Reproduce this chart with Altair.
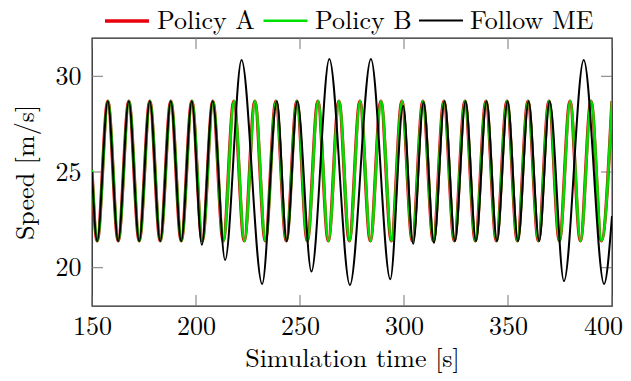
import altair as alt
import pandas as pd

# ---- data (extrema of each trace) ----
a_time = [150.0, 152.5, 157.6, 162.6, 167.7, 172.7, 177.8, 182.8, 187.9, 192.9,
          198.0, 203.0, 208.1, 213.1, 218.2, 223.2, 228.3, 233.3, 238.4, 243.4,
          248.5, 253.5, 258.6, 263.6, 268.7, 273.7, 278.8, 283.8, 288.9, 293.9,
          299.0, 304.0, 309.1, 314.1, 319.2, 324.2, 329.3, 334.3, 339.4, 344.4,
          349.5, 354.5, 359.6, 364.6, 369.7, 374.7, 379.8, 384.8, 389.9, 394.9,
          400.0]
a_speed = [25.0, 21.4, 28.7, 21.4, 28.7, 21.4, 28.7, 21.4, 28.7, 21.4,
           28.7, 21.4, 28.7, 21.4, 28.7, 21.4, 28.7, 21.4, 28.7, 21.4,
           28.7, 21.4, 28.7, 21.4, 28.7, 21.4, 28.7, 21.4, 28.7, 21.4,
           28.7, 21.4, 28.7, 21.4, 28.7, 21.4, 28.7, 21.4, 28.7, 21.4,
           28.7, 21.4, 28.7, 21.4, 28.7, 21.4, 28.7, 21.4, 28.7, 21.4,
           28.7]

b_time = [150.0, 152.6, 157.7, 162.7, 167.8, 172.8, 177.9, 182.9, 188.0, 193.0,
          198.1, 203.1, 208.2, 213.2, 218.3, 223.3, 228.4, 233.4, 238.5, 243.5,
          248.6, 253.6, 258.7, 263.7, 268.8, 273.8, 278.9, 283.9, 289.0, 294.0,
          299.1, 304.1, 309.2, 314.2, 319.3, 324.3, 329.4, 334.4, 339.5, 344.5,
          349.6, 354.6, 359.7, 364.7, 369.8, 374.8, 379.9, 384.9, 390.0, 395.0,
          400.0]
b_speed = [25.1, 21.4, 28.7, 21.4, 28.7, 21.4, 28.7, 21.4, 28.7, 21.4,
           28.7, 21.4, 28.7, 21.4, 28.7, 21.4, 28.7, 21.4, 28.7, 21.4,
           28.7, 21.4, 28.7, 21.4, 28.7, 21.4, 28.7, 21.4, 28.7, 21.4,
           28.7, 21.4, 28.7, 21.4, 28.7, 21.4, 28.7, 21.4, 28.7, 21.4,
           28.7, 21.4, 28.7, 21.4, 28.7, 21.4, 28.7, 21.4, 28.7, 21.4,
           28.7]

c_time = [150.0, 152.5, 157.6, 162.6, 167.7, 172.7, 177.8, 182.8, 187.9, 192.9,
          198.0, 202.8, 208.0, 214.0, 221.9, 231.8, 238.9, 243.6, 248.7, 255.5,
          264.1, 274.0, 284.1, 293.4, 299.6, 304.4, 309.4, 314.4, 319.5, 324.5,
          329.6, 334.6, 339.7, 344.7, 349.8, 354.8, 359.9, 365.0, 370.0, 376.9,
          386.4, 396.2, 400.0]
c_speed = [25.0, 21.4, 28.7, 21.4, 28.7, 21.4, 28.7, 21.4, 28.7, 21.4,
           28.7, 21.2, 28.7, 20.4, 30.85, 19.15, 28.7, 21.4, 28.7, 19.8,
           30.9, 19.1, 30.9, 19.4, 28.45, 21.25, 28.65, 21.3, 28.7, 21.4,
           28.7, 21.4, 28.7, 21.4, 28.7, 21.4, 28.7, 21.4, 28.7, 19.3,
           30.85, 19.15, 22.7]

series_names = ["Policy A", "Policy B", "Follow ME"]
series_colors = ["#e8000b", "#00e000", "#000000"]
series_widths = [3.4, 2.0, 1.1]

x_ticks = [150, 200, 250, 300, 350, 400]
y_ticks = [20, 25, 30]
x_domain = [150, 400]
y_domain = [18, 32]

FONT = "Latin Modern Roman"
FS = 26
W, H = 520, 268
TICK = 11

df = pd.concat([
    pd.DataFrame({"t": a_time, "v": a_speed, "series": series_names[0]}),
    pd.DataFrame({"t": b_time, "v": b_speed, "series": series_names[1]}),
    pd.DataFrame({"t": c_time, "v": c_speed, "series": series_names[2]}),
])

xs = alt.Scale(domain=x_domain, nice=False, zero=False)
ys = alt.Scale(domain=y_domain, nice=False, zero=False)

legend_opts = dict(title=None, orient="none", direction="horizontal",
                   legendX=11, legendY=-41,
                   symbolType="stroke", symbolSize=1936,
                   labelFont=FONT, labelFontSize=FS, labelColor="black",
                   labelOffset=6, columnPadding=3, padding=0)
color = alt.Color("series:N",
                  scale=alt.Scale(domain=series_names, range=series_colors),
                  legend=alt.Legend(**legend_opts))
sw = alt.StrokeWidth("series:N",
                     scale=alt.Scale(domain=series_names, range=series_widths),
                     legend=alt.Legend(**legend_opts))

x_enc = alt.X("t:Q", scale=xs,
              axis=alt.Axis(values=x_ticks, title="Simulation time [s]", ticks=False,
                            domain=False, grid=False, labelFont=FONT, labelFontSize=FS,
                            labelColor="black", labelPadding=7, labelFlush=False,
                            labelOffset={"condition": {"test": "datum.value == 400", "value": -9},
                                         "value": 0},
                            titleFont=FONT, titleFontSize=FS, titleFontWeight="normal",
                            titleColor="black", titleY=60, titleBaseline="alphabetic"))
y_enc = alt.Y("v:Q", scale=ys,
              axis=alt.Axis(values=y_ticks, title="Speed [m/s]", ticks=False,
                            domain=False, grid=False, labelFont=FONT, labelFontSize=FS,
                            labelColor="black", labelPadding=11,
                            titleFont=FONT, titleFontSize=FS, titleFontWeight="normal",
                            titleColor="black", titleX=-59, titleY=H / 2,
                            titleBaseline="alphabetic", titleAlign="center", titleAngle=-90))

layers = []
for name in series_names:
    layers.append(
        alt.Chart(df).transform_filter(alt.datum.series == name)
        .mark_line(interpolate="monotone", clip=True)
        .encode(x=x_enc, y=y_enc, color=color, strokeWidth=sw)
    )

xt = pd.DataFrame({"t": x_ticks})
yt = pd.DataFrame({"v": y_ticks})
tick_style = dict(color="#777777", strokeWidth=1)
bottom = alt.Chart(xt).mark_rule(**tick_style).encode(
    x=alt.X("t:Q", scale=xs), y=alt.value(H), y2=alt.value(H - TICK))
top = alt.Chart(xt).mark_rule(**tick_style).encode(
    x=alt.X("t:Q", scale=xs), y=alt.value(0), y2=alt.value(TICK))
left = alt.Chart(yt).mark_rule(**tick_style).encode(
    y=alt.Y("v:Q", scale=ys), x=alt.value(0), x2=alt.value(TICK))
right = alt.Chart(yt).mark_rule(**tick_style).encode(
    y=alt.Y("v:Q", scale=ys), x=alt.value(W), x2=alt.value(W - TICK))

chart = (
    alt.layer(bottom, top, left, right, *layers)
    .properties(
        width=W, height=H,
        autosize=alt.AutoSizeParams(type="none"),
        padding={"left": 84, "top": 30, "right": 11, "bottom": 67},
    )
    .configure(background="white", font=FONT)
    .configure_view(stroke="#222222", strokeWidth=1.3)
    .configure_axis(labelFont=FONT, titleFont=FONT)
    .configure_legend(labelFont=FONT)
)

chart.save("out.html", embed_options={"renderer": "svg", "actions": False})
